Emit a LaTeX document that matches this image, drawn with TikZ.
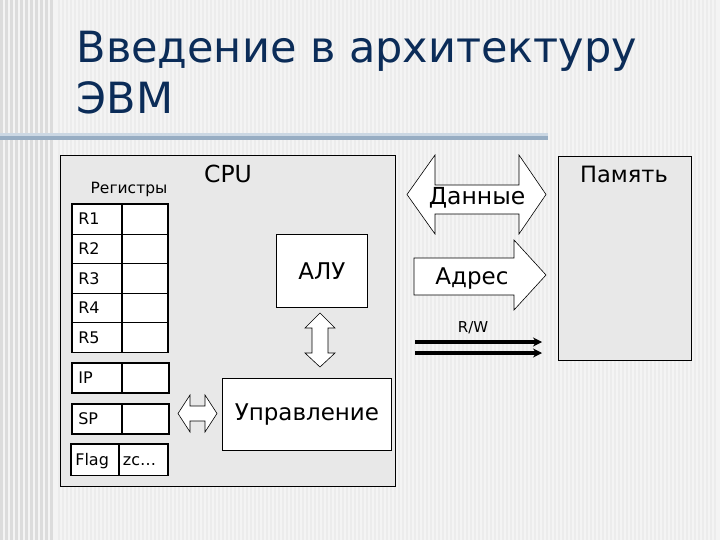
\documentclass[tikz,border=0pt]{standalone}
\usepackage{fontspec}
\setmainfont{DejaVu Sans}
\usetikzlibrary{arrows.meta,positioning,calc}
\definecolor{slideBg}{HTML}{F4F4F4}
\definecolor{slideStripe}{HTML}{ECECEC}
\definecolor{bandStripe}{HTML}{DCDCDC}
\definecolor{titleNavy}{HTML}{0B2C58}
\definecolor{ruleBlue}{HTML}{97ADC3}
\definecolor{ruleLight}{HTML}{CBD7E3}
\definecolor{panelGray}{HTML}{E8E8E8}

\newcommand{\fsz}[1]{\fontsize{#1}{#1}\selectfont}

\begin{document}
\begin{tikzpicture}[x=1pt,y=-1pt,
  panel/.style={draw,fill=panelGray,line width=0.8pt,anchor=north west,inner sep=0pt},
  unitbox/.style={draw,fill=white,line width=0.8pt,inner sep=0pt,font=\fsz{23}},
  regcell/.style={draw,fill=white,line width=0.6pt,inner xsep=6pt,inner ysep=0pt,
    text width=#1,align=left,minimum height=29.6pt,text height=11.5pt,text depth=0pt,
    font=\fsz{16}},
  regcell/.default=37pt,
  fatarrow/.style={draw,fill=white,line width=0.6pt,line join=miter},
  busline/.style={line width=3.4pt,-{Stealth[length=9pt,width=9pt]}}]
  % slide background
  \useasboundingbox (0,0) rectangle (720,540);
  \fill[slideBg] (0,0) rectangle (720,540);
  \foreach \x in {58,62,...,716} \fill[slideStripe] (\x,0) rectangle ++(2,540);
  \foreach \x in {0,5,...,52} \fill[bandStripe] (\x,0) rectangle ++(2.5,540);
  \fill[ruleLight] (0,133) rectangle (548,136);
  \fill[ruleBlue] (0,136) rectangle (548,140);

  % title
  \node[anchor=base west,text=titleNavy,font=\fsz{43}] (title1) at (73,63) {Введение в архитектуру};
  \node[anchor=base west,text=titleNavy,font=\fsz{43}] (title2) at (73,114) {ЭВМ};

  % CPU panel
  \node[panel,minimum width=335pt,minimum height=331pt] (cpu) at (60,155) {};
  \node[anchor=base,font=\fsz{23.5}] (cpulbl) at (228,183) {CPU};
  \node[anchor=base,font=\fsz{15.5}] (reglbl) at (129,194) {Регистры};

  % register file
  \foreach \i in {1,...,5} {
    \node[regcell,anchor=north west] (r\i) at (72,{204+29.6*(\i-1)}) {R\i};
    \node[regcell=34pt,right=0pt of r\i] (val\i) {};
  }
  \draw[line width=1.6pt] (r1.north west) rectangle (val5.south east);

  \node[regcell,anchor=north west] (ip) at (72,363) {IP};
  \node[regcell=35pt,right=0pt of ip] (ipval) {};
  \draw[line width=1.6pt] (ip.north west) rectangle (ipval.south east);

  \node[regcell,anchor=north west] (sp) at (72,404) {SP};
  \node[regcell=35pt,right=0pt of sp] (spval) {};
  \draw[line width=1.6pt] (sp.north west) rectangle (spval.south east);

  \node[regcell=39pt,anchor=north west,inner xsep=4pt,minimum height=31pt] (flag) at (71,444) {Flag};
  \node[regcell=41pt,right=0pt of flag,inner xsep=4pt,minimum height=31pt] (flagval) {zc\dots};
  \draw[line width=1.6pt] (flag.north west) rectangle (flagval.south east);

  % ALU and control unit
  \node[unitbox,anchor=north west,minimum width=91pt,minimum height=73pt] (alu) at (276,234) {АЛУ};
  \node[unitbox,anchor=north west,minimum width=169pt,minimum height=72pt] (ctrl) at (222,378) {Управление};

  % internal buses
  \draw[fatarrow] (320,313) -- (335,328) -- (328,328) -- (328,353) -- (335,353)
    -- (320,367) -- (305,353) -- (312,353) -- (312,328) -- (305,328) -- cycle;
  \draw[fatarrow] (178,413.5) -- (190,395) -- (190,406) -- (205,406) -- (205,395)
    -- (217,413.5) -- (205,432) -- (205,421) -- (190,421) -- (190,432) -- cycle;

  % memory
  \node[panel,minimum width=133pt,minimum height=204pt] (mem) at (558,156) {};
  \node[anchor=base,font=\fsz{22.5}] (memlbl) at (624,183) {Память};

  % system buses
  \draw[fatarrow] (407,194.5) -- (435,155) -- (435,185) -- (519,185) -- (519,155)
    -- (546,194.5) -- (519,234) -- (519,214) -- (435,214) -- (435,234) -- cycle;
  \node[anchor=base,font=\fsz{23.5}] (data) at (477,205) {Данные};
  \draw[fatarrow] (414,258) -- (514,258) -- (514,240) -- (546,275) -- (514,310)
    -- (514,295) -- (414,295) -- cycle;
  \node[anchor=base,font=\fsz{23}] (addr) at (472,284) {Адрес};

  \node[anchor=base,font=\fsz{15}] (rw) at (473,332) {R/W};
  \coordinate (rda) at (415,342);
  \coordinate (rdb) at (542,342);
  \coordinate (wra) at (415,353);
  \coordinate (wrb) at (542,353);
  \draw[busline] (rda) -- (rdb);
  \draw[busline] (wra) -- (wrb);
\end{tikzpicture}
\end{document}
